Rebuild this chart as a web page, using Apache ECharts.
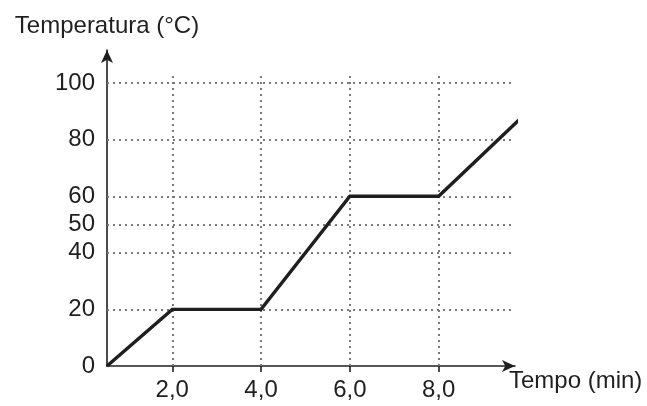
<!DOCTYPE html>
<html>
<head>
<meta charset="utf-8">
<script src="https://cdn.jsdelivr.net/npm/echarts@6/dist/echarts.min.js"></script>
<style>
html,body{margin:0;padding:0;background:#fff;}
#chart{width:647px;height:406px;}
</style>
</head>
<body>
<div id="chart"></div>
<script>
// Data (x origin of the drawing sits at ~0.53 on its own scale)
var timeValues = [0.53, 2.0, 4.0, 6.0, 8.0, 9.85];
var tempValues = [0, 20, 20, 60, 60, 87.6];
var xTickValues = [2, 4, 6, 8];
var yTickValues = [0, 20, 40, 50, 60, 80, 100];
var yGridValues = [20, 40, 50, 60, 80, 100];
var xName = 'Tempo (min)';
var yName = 'Temperatura (°C)';

var xMin = 0.53, xMax = 9.72, yMin = 0, yMax = 111.7, vGridTop = 102.5;

var font = "'Liberation Sans', Arial, sans-serif";
var ink = '#1f1f1f';
var dotStyle = {color: '#7a7a7a', width: 2, type: [2, 4]};

var gridLines = [];
yGridValues.forEach(function (v) {
  gridLines.push([{coord: [xMin, v]}, {coord: [xMax, v]}]);
});
xTickValues.forEach(function (v) {
  gridLines.push([{coord: [v, yMin]}, {coord: [v, vGridTop]}]);
});

var chart = echarts.init(document.getElementById('chart'));
chart.setOption({
  animation: false,
  backgroundColor: '#fff',
  grid: {left: 107, right: 132, top: 50, bottom: 40, containLabel: false},
  xAxis: {
    type: 'value', min: xMin, max: xMax,
    name: xName, nameLocation: 'end', nameGap: -6,
    nameTextStyle: {fontFamily: font, fontSize: 24, color: ink, align: 'left', verticalAlign: 'top', padding: [3, 0, 0, 0]},
    axisLine: {show: true, symbol: ['none', 'arrow'], symbolSize: [9, 13], lineStyle: {color: ink, width: 1.6}},
    axisTick: {show: true, customValues: xTickValues, length: 6, inside: false, lineStyle: {color: ink, width: 1.6}},
    axisLabel: {show: true, customValues: xTickValues, margin: 12, fontFamily: font, fontSize: 24, color: ink,
      formatter: function (v) { return v.toFixed(1).replace('.', ','); }},
    splitLine: {show: false}
  },
  yAxis: {
    type: 'value', min: yMin, max: yMax,
    name: yName, nameLocation: 'end', nameGap: 12,
    nameTextStyle: {fontFamily: font, fontSize: 24, color: ink},
    axisLine: {show: true, symbol: ['none', 'arrow'], symbolSize: [9, 13], lineStyle: {color: ink, width: 1.6}},
    axisTick: {show: false},
    axisLabel: {show: true, customValues: yTickValues, margin: 12, fontFamily: font, fontSize: 24, color: ink},
    splitLine: {show: false}
  },
  series: [{
    type: 'line',
    data: timeValues.map(function (t, i) { return [t, tempValues[i]]; }),
    symbol: 'none',
    clip: false,
    lineStyle: {color: ink, width: 3.4, join: 'miter'},
    z: 5,
    markLine: {
      silent: true, symbol: ['none', 'none'], label: {show: false},
      lineStyle: dotStyle, emphasis: {disabled: true},
      data: gridLines, z: 1
    }
  }]
});
</script>
</body>
</html>
